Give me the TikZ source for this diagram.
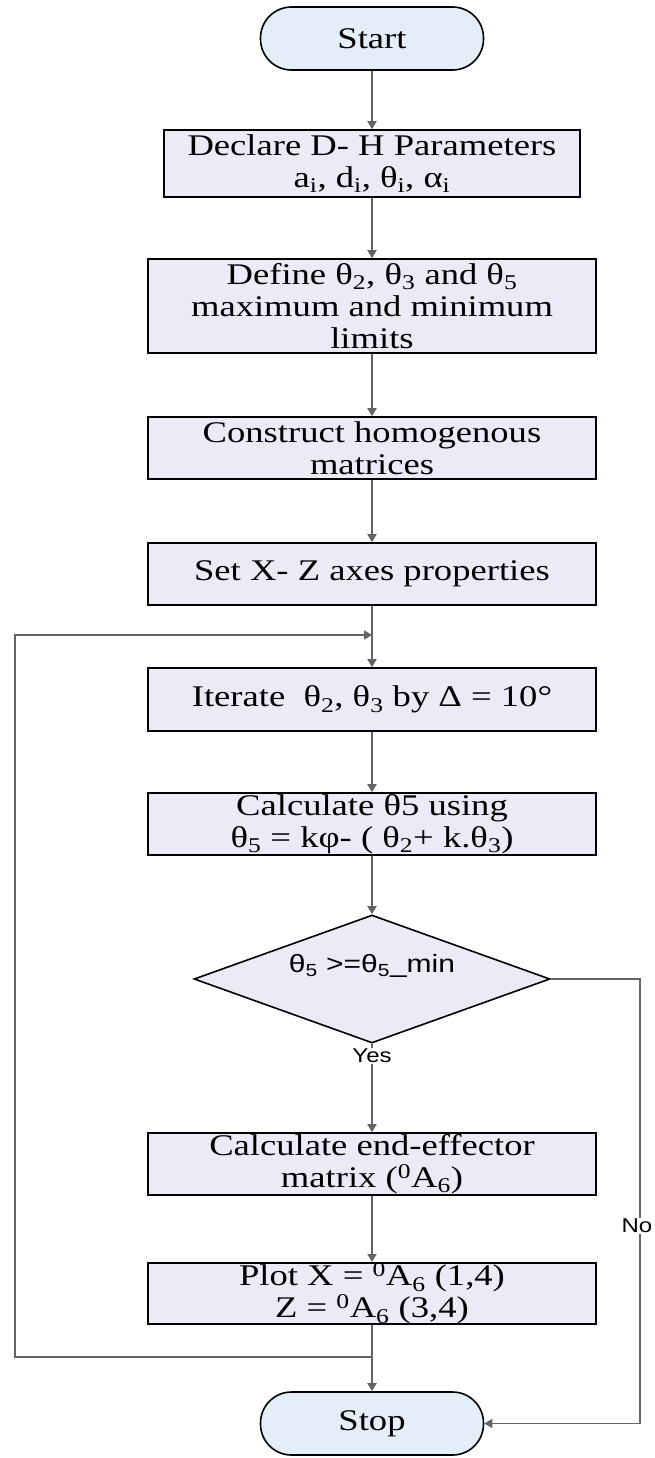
\documentclass[tikz,border=0pt]{standalone}
\usepackage{fontspec}
\setmainfont{Liberation Serif}[FakeStretch=1.22]
\newfontfamily\sansf{Liberation Sans}[FakeStretch=1.2]
\usetikzlibrary{shapes.geometric,arrows.meta}
\definecolor{boxfill}{RGB}{234,235,247}
\definecolor{termfill}{RGB}{228,238,249}
\definecolor{linegray}{RGB}{100,100,100}
\newcommand{\sbs}[1]{\textsubscript{#1}}
\newcommand{\sps}[1]{\textsuperscript{#1}}
\begin{document}
\begin{tikzpicture}[x=1pt,y=-1pt,
  stepbox/.style={draw=black,line width=1.6pt,fill=boxfill,minimum width=448pt,align=center,inner sep=0pt,font=\fontsize{30}{32}\selectfont},
  term/.style={draw=black,line width=1.6pt,fill=termfill,minimum width=223pt,minimum height=63pt,rounded corners=31pt,inner sep=0pt,font=\fontsize{30}{32}\selectfont},
  flow/.style={draw=linegray,line width=1.8pt,-{Triangle[width=9pt,length=8pt]}},
  lbl/.style={font=\sansf\fontsize{20}{24}\selectfont,fill=white,inner sep=1pt}
]
\useasboundingbox (0,0) rectangle (654,1458);
\fill[white] (0,0) rectangle (654,1458);

\node[term] (start) at (372,38.5) {Start};
\node[stepbox,minimum width=416pt,minimum height=67pt] (declare) at (372,163.5)
  {Declare D- H Parameters\\a\sbs{i}, d\sbs{i}, θ\sbs{i}, α\sbs{i}};
\node[stepbox,minimum height=94pt] (define) at (372,306)
  {Define θ\sbs{2}, θ\sbs{3} and θ\sbs{5}\\maximum and minimum\\limits};
\node[stepbox,minimum height=62pt] (construct) at (372,448)
  {Construct homogenous\\matrices};
\node[stepbox,minimum height=62pt] (setax) at (372,574)
  {Set X- Z axes properties};
\node[stepbox,minimum height=63pt] (iterate) at (372,699.5)
  {Iterate\ \ θ\sbs{2}, θ\sbs{3} by Δ = 10°};
\node[stepbox,minimum height=62pt] (calc) at (372,824)
  {Calculate θ5 using\\θ\sbs{5} = kφ- ( θ\sbs{2}+ k.θ\sbs{3})};
\node[diamond,draw=black,line width=1.6pt,fill=boxfill,minimum width=356pt,minimum height=128pt,inner sep=0pt] (dec) at (372,979) {};
\node[font=\sansf\fontsize{25}{28}\selectfont] (dectext) at (372,966)
  {θ\sbs{5} >=θ\sbs{5}\_min};
\node[stepbox,minimum height=62pt] (endeff) at (372,1164)
  {Calculate end-effector\\matrix (\sps{0}A\sbs{6})};
\node[stepbox,minimum height=61pt] (plot) at (372,1293.5)
  {Plot X = \sps{0}A\sbs{6} (1,4)\\Z = \sps{0}A\sbs{6} (3,4)};
\node[term] (stop) at (372,1423.5) {Stop};

\coordinate (loopin) at (372,635);
\coordinate (loopout) at (372,1357);
\coordinate (lb) at (15,1357);
\coordinate (lt) at (15,635);
\coordinate (nr1) at (640,979);
\coordinate (nr2) at (640,1423.5);

\draw[flow] (start) -- (declare);
\draw[flow] (declare) -- (define);
\draw[flow] (define) -- (construct);
\draw[flow] (construct) -- (setax);
\draw[flow] (setax) -- (iterate);
\draw[flow] (iterate) -- (calc);
\draw[flow] (calc) -- (dec);
\draw[flow] (dec) -- (endeff);
\draw[flow] (endeff) -- (plot);
\draw[flow] (plot) -- (stop);
\draw[flow] (loopout) -- (lb) -- (lt) -- (loopin);
\draw[flow] (dec.east) -- (nr1) -- (nr2) -- (stop.east);

\node[lbl] (yes) at (372,1056) {Yes};
\node[lbl] (no) at (637,1226) {No};
\end{tikzpicture}
\end{document}
